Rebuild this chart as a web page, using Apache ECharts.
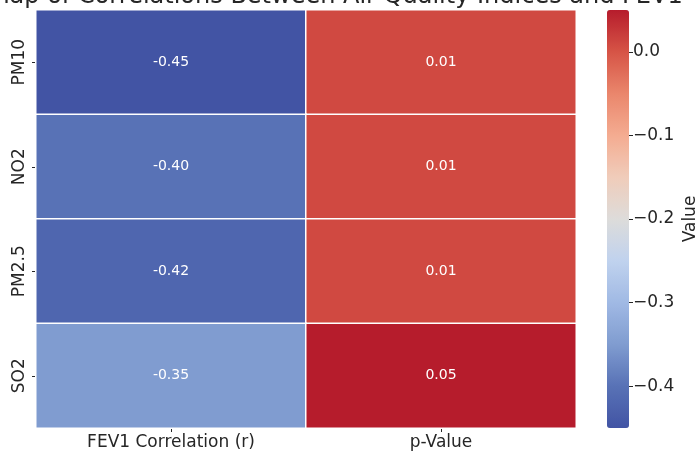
<!DOCTYPE html>
<html>
<head>
<meta charset="utf-8">
<script src="https://cdn.jsdelivr.net/npm/echarts@6/dist/echarts.min.js"></script>
<style>
html,body{margin:0;padding:0;background:#fff;}
#chart{width:697px;height:452px;}
</style>
</head>
<body>
<div id="chart"></div>
<script>
const titleText = 'Heatmap of Correlations Between Air Quality Indices and FEV1';
const rows = ['PM10', 'NO2', 'PM2.5', 'SO2'];
const cols = ['FEV1 Correlation (r)', 'p-Value'];
const corrValues = [-0.45, -0.40, -0.42, -0.35];
const pValues = [0.01, 0.01, 0.01, 0.05];
const cbarTicks = [-0.4, -0.3, -0.2, -0.1, 0.0];
const vMin = -0.45, vMax = 0.05;
const palette = ['#4254a4','#5872b6','#809cd0','#a0b9e4','#c0d2ee','#dddcda','#f0ccba','#f4ac91','#ea866c','#d65446','#b61c2c'];

const data = [];
rows.forEach((r, i) => {
  data.push([0, i, corrValues[i]]);
  data.push([1, i, pValues[i]]);
});

const FONT = 'DejaVu Sans';
const TXT = '#262626';
const chart = echarts.init(document.getElementById('chart'), null, {renderer: 'canvas'});
chart.setOption({
  animation: false,
  textStyle: {fontFamily: FONT},
  title: {
    text: titleText,
    left: 306, top: -15, padding: 0, textAlign: 'center',
    textStyle: {fontFamily: FONT, fontSize: 24, fontWeight: 'normal', color: TXT}
  },
  grid: [
    {left: 36, top: 10, width: 540, height: 418, containLabel: false, outerBoundsMode: 'none'},
    {left: 607, top: 10, width: 22, height: 418, containLabel: false, outerBoundsMode: 'none'}
  ],
  xAxis: [
    {
      type: 'category', gridIndex: 0, data: cols,
      axisLine: {show: false},
      axisTick: {show: true, alignWithLabel: true, length: 4, lineStyle: {color: TXT}},
      axisLabel: {fontFamily: FONT, fontSize: 17, color: TXT, margin: 6},
      splitLine: {show: false}
    },
    {type: 'value', gridIndex: 1, show: false, min: 0, max: 1}
  ],
  yAxis: [
    {
      type: 'category', gridIndex: 0, data: rows, inverse: true,
      axisLine: {show: false},
      axisTick: {show: true, alignWithLabel: true, length: 4, lineStyle: {color: TXT}},
      axisLabel: {fontFamily: FONT, fontSize: 17, color: TXT, rotate: 90, margin: 8},
      splitLine: {show: false}
    },
    {
      type: 'value', gridIndex: 1, min: vMin, max: vMax, position: 'right',
      axisLine: {show: false, onZero: false},
      axisTick: {show: true, length: 4, customValues: cbarTicks, lineStyle: {color: TXT}},
      axisLabel: {
        fontFamily: FONT, fontSize: 17, color: TXT, margin: 4,
        customValues: cbarTicks,
        formatter: v => (v < -1e-9 ? '\u2212' : '') + Math.abs(v).toFixed(1)
      },
      splitLine: {show: false},
      name: 'Value', nameLocation: 'middle', nameRotate: 90, nameGap: 53,
      nameTextStyle: {fontFamily: FONT, fontSize: 17, color: TXT}
    }
  ],
  visualMap: {
    type: 'continuous', min: vMin, max: vMax, seriesIndex: 0,
    calculable: false, hoverLink: false,
    left: 607, top: 10, itemWidth: 22, itemHeight: 418, padding: 0,
    inRange: {color: palette}
  },
  series: [
    {
      type: 'heatmap', xAxisIndex: 0, yAxisIndex: 0, data: data,
      label: {
        show: true, color: '#fff', fontFamily: FONT, fontSize: 14,
        formatter: p => p.value[2].toFixed(2)
      },
      itemStyle: {borderColor: '#fff', borderWidth: 1.5},
      emphasis: {disabled: true}
    },
    {type: 'line', xAxisIndex: 1, yAxisIndex: 1, data: [], silent: true}
  ]
});
</script>
</body>
</html>
